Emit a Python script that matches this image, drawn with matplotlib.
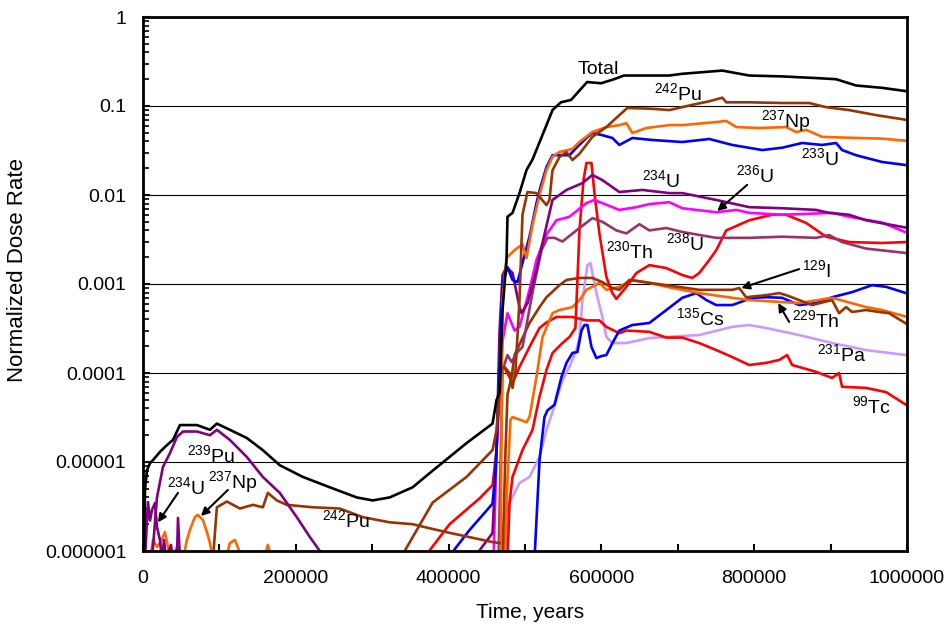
import numpy as np
import matplotlib
matplotlib.use("Agg")
import matplotlib.pyplot as plt
from matplotlib.ticker import FixedLocator, FixedFormatter, LogLocator, MultipleLocator, FuncFormatter, NullFormatter

plt.rcParams["font.family"] = ["Liberation Sans", "DejaVu Sans"]
plt.rcParams["mathtext.default"] = "regular"

# ---- data (years, normalized dose rate) ----
total_x = [1300, 2600, 5200, 9200, 13100, 22200, 31400, 39200, 48400, 70600,
           87600, 96700, 113700, 135900, 156800, 179000, 209200, 244400, 279700, 300700,
           322900, 353000, 375200, 423500, 457500, 462800, 466700, 470600, 475800, 477100,
           483700, 492800, 502000, 509800, 527100, 536000, 547000, 560300, 581300, 599500,
           616500, 629600, 688800, 705900, 758200, 793500, 836600, 881000, 907200, 933300,
           967300, 998700]
total_y = [8e-7, 4.85e-6, 8.1e-6, 9.7e-6, 1.05e-5, 1.3e-5, 1.55e-5, 1.77e-5, 2.6e-5, 2.6e-5,
           2.3e-5, 2.7e-5, 2.3e-5, 1.86e-5, 1.36e-5, 9.2e-6, 6.8e-6, 5.2e-6, 4.0e-6, 3.7e-6,
           4.0e-6, 5.2e-6, 7.5e-6, 1.63e-5, 2.7e-5, 5e-5, 6e-5, 5.1e-4, 1.86e-3, 5.7e-3,
           6.3e-3, 0.0105, 0.0191, 0.025, 0.058, 0.09, 0.11, 0.117, 0.186, 0.18,
           0.2, 0.22, 0.22, 0.23, 0.25, 0.22, 0.215, 0.206, 0.2, 0.17,
           0.16, 0.147]

pu239_x = [11800, 18300, 26100, 35300, 44400, 52300, 70600, 87600, 96700, 113700,
           135900, 156800, 179000, 201300, 218300, 231400, 238000]
pu239_y = [8e-7, 4.0e-6, 8.8e-6, 1.26e-5, 1.91e-5, 2.2e-5, 2.2e-5, 2.0e-5, 2.3e-5, 1.77e-5,
           1.14e-5, 6.8e-6, 4.5e-6, 2.4e-6, 1.44e-6, 1.0e-6, 8e-7]

u234_early_x = [2600, 5200, 6500, 9200, 11800, 15700, 18300, 22200, 24800, 27500,
                30100, 36600, 39200, 44400, 45800, 48400]
u234_early_y = [8e-7, 2.2e-6, 3.55e-6, 2.2e-6, 2.9e-6, 3.46e-6, 1.86e-6, 1.33e-6, 8e-7, 1.33e-6,
                8e-7, 1.17e-6, 8e-7, 8e-7, 2.35e-6, 8e-7]

np237_early_x = [9200, 13100, 18300, 22200, 28800, 32700, 36600, 45800, 52300, 57500,
                 61400, 67900, 71900, 78400, 83700, 87600, 91500, 108500, 113700, 120300,
                 130700, 158200, 163400, 168600]
np237_early_y = [8e-7, 1.33e-6, 1.11e-6, 1.23e-6, 1.63e-6, 1.11e-6, 8e-7, 1.17e-6, 8e-7, 1.33e-6,
                 1.72e-6, 2.41e-6, 2.54e-6, 2.23e-6, 1.63e-6, 1.23e-6, 8e-7, 8e-7, 1.23e-6, 1.33e-6,
                 8e-7, 8e-7, 1.17e-6, 8e-7]

pu242_early_x = [91500, 96700, 109800, 126800, 143800, 156900, 163400, 175200, 188200, 222200,
                 257500, 287600, 322900, 353000, 375200, 401300, 457500, 466700]
pu242_early_y = [8e-7, 3.1e-6, 3.6e-6, 3.0e-6, 3.3e-6, 3.1e-6, 4.5e-6, 3.7e-6, 3.3e-6, 3.1e-6,
                 3.0e-6, 2.4e-6, 2.1e-6, 2.0e-6, 1.8e-6, 1.6e-6, 1.26e-6, 1.23e-6]

pu242_x = [336000, 379100, 423500, 457500, 462800, 469300, 473200, 479700, 483700, 487600,
           492800, 496700, 503200, 515000, 528100, 532000, 536000, 545100, 554300, 562100,
           571200, 588200, 606500, 623500, 634000, 666700, 688900, 718900, 741200, 758200,
           763400, 793500, 836600, 871900, 894100, 924200, 959500, 998700]
pu242_y = [8e-7, 3.5e-6, 6.8e-6, 1.36e-5, 2.3e-5, 1.14e-4, 1.17e-4, 1.0e-4, 6.8e-5, 1.08e-4,
           6.6e-4, 6.0e-3, 0.0108, 0.0105, 7.7e-3, 8.8e-3, 0.019, 0.0267, 0.0304, 0.0247,
           0.029, 0.045, 0.058, 0.079, 0.095, 0.093, 0.09, 0.103, 0.113, 0.124,
           0.11, 0.11, 0.108, 0.108, 0.097, 0.09, 0.079, 0.07]

np237_x = [468000, 470600, 475800, 486300, 496700, 502000, 509800, 519000, 528100, 536000,
           545100, 562100, 571200, 588200, 606500, 623500, 632700, 640500, 658800, 688900,
           705900, 750300, 763400, 776500, 806500, 841800, 854900, 868000, 888900, 924200,
           967300, 998700]
np237_y = [8e-7, 6.6e-4, 1.96e-3, 2.4e-3, 2.8e-3, 1.96e-3, 4.6e-3, 0.01, 0.019, 0.027,
           0.0304, 0.033, 0.0394, 0.051, 0.058, 0.061, 0.064, 0.0497, 0.0566, 0.061,
           0.061, 0.066, 0.068, 0.058, 0.0566, 0.058, 0.051, 0.054, 0.045, 0.044,
           0.043, 0.0407]

u233_x = [397400, 427400, 457500, 461500, 465400, 470600, 477100, 483700, 490200, 496700,
          505900, 515000, 520300, 528100, 536000, 558200, 567300, 580400, 588200, 601300,
          614400, 623500, 640500, 666700, 705900, 741200, 771300, 810500, 836600, 862700,
          888900, 907200, 915000, 933300, 967300, 998700]
u233_y = [8e-7, 1.72e-6, 3.4e-6, 8.1e-6, 5.0e-5, 1e-3, 1.55e-3, 1.11e-3, 1.05e-3, 1.72e-3,
          3.4e-3, 8.1e-3, 0.0123, 0.0206, 0.028, 0.028, 0.034, 0.0437, 0.0497, 0.047,
          0.0437, 0.0365, 0.0437, 0.0415, 0.0394, 0.0426, 0.0365, 0.032, 0.034, 0.0384,
          0.0365, 0.0384, 0.032, 0.028, 0.0235, 0.0217]

u234_x = [431400, 457500, 462800, 466700, 470600, 475800, 483700, 492800, 495400, 503300,
          515000, 522900, 536000, 554300, 575200, 588200, 601300, 623500, 653600, 688900,
          705900, 750300, 793500, 836600, 881000, 898000, 924200, 946400, 998700]
u234_y = [8e-7, 1.59e-6, 1.36e-5, 3.0e-4, 1.26e-3, 1.55e-3, 1.33e-3, 5.5e-4, 4.7e-4, 6.1e-4,
          1.44e-3, 2.89e-3, 8.8e-3, 0.0114, 0.0136, 0.0168, 0.0147, 0.0108, 0.0114, 0.0105,
          0.0105, 8.8e-3, 7.3e-3, 7.1e-3, 6.8e-3, 6.3e-3, 6.0e-3, 5.2e-3, 4.3e-3]

u236_x = [458800, 462800, 470600, 477100, 486300, 492800, 505900, 515000, 528100, 541200,
          558200, 580400, 590800, 601300, 623500, 645800, 662800, 688900, 705900, 750300,
          776500, 793500, 836600, 902000, 924200, 967300, 998700]
u236_y = [8e-7, 1.36e-5, 2.3e-4, 4.7e-4, 3.0e-4, 3.3e-4, 8.6e-4, 1.86e-3, 3.6e-3, 5.2e-3,
          5.7e-3, 8.1e-3, 8.8e-3, 8.1e-3, 6.8e-3, 7.3e-3, 7.9e-3, 8.3e-3, 7.1e-3, 6.4e-3,
          6.8e-3, 6.3e-3, 6.0e-3, 6.3e-3, 5.7e-3, 4.9e-3, 3.8e-3]

u238_x = [465400, 470600, 477100, 482400, 490200, 496700, 509800, 521600, 529400, 538600,
          549000, 567300, 588200, 601300, 619600, 632700, 649700, 662800, 685000, 705900,
          750300, 793500, 836600, 881000, 898000, 915000, 946400, 998700]
u238_y = [8e-7, 1.08e-4, 1.59e-4, 1.33e-4, 1.72e-4, 1.96e-4, 8.0e-4, 2.4e-3, 3.3e-3, 3.3e-3,
          3.0e-3, 4.0e-3, 5.5e-3, 5.0e-3, 4.0e-3, 3.7e-3, 4.7e-3, 4.0e-3, 4.26e-3, 3.84e-3,
          3.3e-3, 3.3e-3, 3.4e-3, 3.3e-3, 3.55e-3, 2.96e-3, 2.5e-3, 2.23e-3]

th230_x = [477100, 479700, 483700, 496700, 509800, 519000, 528100, 536000, 549000, 558200,
           566000, 571300, 576600, 580400, 587000, 590900, 597400, 606500, 614400, 619600,
           632700, 645800, 662800, 685000, 705900, 719000, 728100, 741200, 750300, 763400,
           793500, 823500, 841800, 868000, 894100, 924200, 967300, 998700]
th230_y = [8e-7, 3.46e-6, 6.8e-6, 1.36e-5, 2.29e-5, 5.4e-5, 1.08e-4, 1.68e-4, 2.17e-4, 2.54e-4,
           3.2e-4, 4.0e-3, 0.0147, 0.0229, 0.0229, 0.0105, 3.7e-3, 1.2e-3, 7.9e-4, 6.8e-4,
           9.3e-4, 1.33e-3, 1.63e-3, 1.51e-3, 1.26e-3, 1.17e-3, 1.33e-3, 1.86e-3, 2.4e-3, 4.0e-3,
           5.2e-3, 6.0e-3, 6.0e-3, 4.85e-3, 3.4e-3, 2.96e-3, 2.89e-3, 2.96e-3]

tc99_x = [366000, 401300, 440500, 457500, 462800, 466700, 473200, 479700, 483700, 492800,
          505900, 519000, 528100, 541200, 562100, 580400, 597400, 606500, 623500, 632700,
          662800, 685000, 705900, 728100, 750300, 771300, 793500, 815700, 832700, 843100,
          849700, 881000, 902000, 911100, 915000, 946400, 972600, 998700]
tc99_y = [8e-7, 2.0e-6, 3.9e-6, 5.5e-6, 1.36e-5, 1.08e-4, 1.14e-4, 9.0e-5, 7.7e-5, 1.17e-4,
          1.96e-4, 3.2e-4, 3.7e-4, 4.26e-4, 4.26e-4, 3.9e-4, 3.9e-4, 3.3e-4, 2.8e-4, 3.0e-4,
          2.9e-4, 2.5e-4, 2.5e-4, 2.17e-4, 1.81e-4, 1.51e-4, 1.23e-4, 1.3e-4, 1.4e-4, 1.59e-4,
          1.23e-4, 1.03e-4, 8.8e-5, 1.0e-4, 7.0e-5, 6.8e-5, 6.1e-5, 4.4e-5]

th229_x = [473200, 477100, 481000, 483700, 502000, 505900, 515000, 522900, 536000, 545100,
           562100, 571300, 580400, 588200, 597400, 606500, 623500, 640500, 662800, 685000,
           728100, 771300, 793500, 832700, 858800, 902000, 946400, 967300, 998700]
th229_y = [8e-7, 6.3e-6, 3.0e-5, 3.2e-5, 2.8e-5, 3.2e-5, 9.0e-5, 2.54e-4, 4.7e-4, 5.1e-4,
           5.5e-4, 6.6e-4, 8.6e-4, 9.3e-4, 1.03e-3, 8.6e-4, 9.3e-4, 1.11e-3, 1.03e-3, 9.3e-4,
           7.9e-4, 7.0e-4, 6.6e-4, 6.3e-4, 6.1e-4, 7.0e-4, 5.5e-4, 5.1e-4, 4.3e-4]

i129_x = [470600, 474500, 477100, 482400, 486300, 505900, 519000, 528100, 545100, 554300,
          571300, 588200, 601300, 614400, 623500, 636600, 662800, 685000, 728100, 771300,
          780400, 789500, 815700, 832700, 841800, 858800, 875800, 902000, 911100, 920300,
          928100, 946400, 963400, 976500, 998700]
i129_y = [8e-7, 1.36e-5, 5.7e-5, 9.0e-5, 1.59e-4, 3.65e-4, 5.5e-4, 7.1e-4, 9.7e-4, 1.11e-3,
          1.17e-3, 1.17e-3, 1.05e-3, 9.0e-4, 8.6e-4, 1.11e-3, 1.03e-3, 9.7e-4, 8.6e-4, 8.6e-4,
          9.0e-4, 7.1e-4, 7.5e-4, 7.9e-4, 7.5e-4, 6.6e-4, 5.8e-4, 6.6e-4, 4.7e-4, 5.5e-4,
          4.85e-4, 5.1e-4, 4.85e-4, 4.7e-4, 3.6e-4]

cs135_x = [512400, 515000, 519000, 525500, 529400, 538600, 547700, 554300, 562100, 568600,
           573900, 577800, 581700, 587000, 593500, 600000, 606500, 614400, 623500, 640500,
           662800, 685000, 705900, 724200, 737300, 750300, 771300, 797400, 815700, 836600,
           858800, 881000, 902000, 928100, 954300, 972600, 998700]
cs135_y = [8e-7, 2.2e-6, 1.05e-5, 3.2e-5, 3.8e-5, 4.4e-5, 9.0e-5, 1.3e-4, 1.68e-4, 1.72e-4,
           3.0e-4, 3.46e-4, 3.46e-4, 1.96e-4, 1.47e-4, 1.55e-4, 1.59e-4, 2.17e-4, 3.0e-4, 3.46e-4,
           3.65e-4, 5.1e-4, 7.0e-4, 7.9e-4, 6.6e-4, 5.8e-4, 5.8e-4, 7.0e-4, 7.1e-4, 7.0e-4,
           5.8e-4, 6.1e-4, 7.1e-4, 8.1e-4, 9.7e-4, 9.3e-4, 7.9e-4]

pa231_x = [474500, 477100, 479700, 492800, 505900, 519000, 528100, 541200, 549000, 558200,
           567300, 571300, 575200, 581700, 585600, 593500, 601300, 606500, 614400, 632700,
           662800, 685000, 728100, 771300, 793500, 815700, 858800, 902000, 946400, 998700]
pa231_y = [8e-7, 2.2e-6, 3.46e-6, 5.8e-6, 6.8e-6, 1.14e-5, 2.29e-5, 5.0e-5, 8.3e-5, 1.17e-4,
           1.81e-4, 2.54e-4, 6.6e-4, 1.63e-3, 1.72e-3, 7.9e-4, 4.26e-4, 2.54e-4, 2.17e-4, 2.17e-4,
           2.47e-4, 2.54e-4, 2.67e-4, 3.3e-4, 3.46e-4, 3.2e-4, 2.67e-4, 2.17e-4, 1.81e-4, 1.59e-4]

# colours
BLACK = "#000000"
PURPLE = "#800080"
BROWN = "#993300"
ORANGE = "#FF6600"
BLUE = "#0000FF"
MAGENTA = "#FF00FF"
MAUVE = "#993366"
RED = "#FF0000"
LAVENDER = "#CC99FF"

series = [
    (pa231_x, pa231_y, LAVENDER),
    (tc99_x, tc99_y, RED),
    (cs135_x, cs135_y, BLUE),
    (th229_x, th229_y, ORANGE),
    (i129_x, i129_y, BROWN),
    (th230_x, th230_y, RED),
    (u238_x, u238_y, MAUVE),
    (u236_x, u236_y, MAGENTA),
    (u234_x, u234_y, PURPLE),
    (u233_x, u233_y, BLUE),
    (np237_x, np237_y, ORANGE),
    (pu242_x, pu242_y, BROWN),
    (pu242_early_x, pu242_early_y, BROWN),
    (np237_early_x, np237_early_y, ORANGE),
    (u234_early_x, u234_early_y, PURPLE),
    (pu239_x, pu239_y, PURPLE),
    (total_x, total_y, BLACK),
]

# label text, anchor (x, y) = left / baseline
labels = [
    ("Total", None, 568600, 0.229),
    ("242", "Pu", 669300, 0.117),
    ("237", "Np", 809100, 0.058),
    ("233", "U", 861400, 0.0217),
    ("234", "U", 653600, 0.0123),
    ("236", "U", 776500, 0.014),
    ("230", "Th", 606500, 1.96e-3),
    ("238", "U", 685000, 2.4e-3),
    ("129", "I", 862700, 1.2e-3),
    ("135", "Cs", 698000, 3.46e-4),
    ("229", "Th", 849700, 3.3e-4),
    ("231", "Pa", 882400, 1.36e-4),
    ("99", "Tc", 928100, 3.55e-5),
    ("239", "Pu", 57500, 1.0e-5),
    ("234", "U", 31400, 4.36e-6),
    ("237", "Np", 85000, 5.1e-6),
    ("242", "Pu", 234000, 1.86e-6),
]

# arrows: (text end) -> (tip)
arrows = [
    ((790800, 0.013), (751600, 6.6e-3)),
    ((858800, 1.47e-3), (783000, 9.0e-4)),
    ((845700, 3.75e-4), (831400, 6.1e-4)),
    ((45800, 4.5e-6), (19600, 2.1e-6)),
    ((111100, 4.85e-6), (75800, 2.47e-6)),
]

decades = [1e-6, 1e-5, 1e-4, 1e-3, 1e-2, 1e-1, 1]
decade_labels = ["0.000001", "0.00001", "0.0001", "0.001", "0.01", "0.1", "1"]

W, H = 951, 632
fig = plt.figure(figsize=(W / 100, H / 100), dpi=100)
ax = fig.add_axes([143 / W, 1 - 551 / H, 764 / W, 534 / H])

for xs, ys, c in series:
    ax.plot(xs, ys, color=c, lw=1.9, solid_joinstyle="round")

ax.set_yscale("log")
ax.set_xlim(0, 1000000)
ax.set_ylim(1e-6, 1)

ax.yaxis.set_major_locator(FixedLocator(decades))
ax.yaxis.set_major_formatter(FixedFormatter(decade_labels))
ax.yaxis.set_minor_locator(LogLocator(base=10, subs=np.arange(2, 10), numticks=20))
ax.yaxis.set_minor_formatter(NullFormatter())
ax.xaxis.set_major_locator(MultipleLocator(100000))
ax.xaxis.set_major_formatter(FuncFormatter(lambda v, p: f"{int(round(v))}" if int(round(v)) % 200000 == 0 else ""))

ax.grid(axis="y", which="major", color="black", lw=0.8)
ax.set_axisbelow(True)
ax.tick_params(which="both", direction="in", top=False, right=False, labelsize=14)
ax.tick_params(which="major", length=5, width=1.5)
ax.tick_params(which="minor", length=4, width=1.2)
ax.tick_params(axis="x", pad=14)
ax.tick_params(axis="y", pad=12)
for s in ax.spines.values():
    s.set_linewidth(2.0)
    s.set_zorder(5)

ax.set_xlabel("Time, years", fontsize=15)
ax.set_ylabel("Normalized Dose Rate", fontsize=16)
ax.xaxis.set_label_coords(0.5065, -0.097)
ax.yaxis.set_label_coords(-0.1505, 0.526)

for sup, main, x, y in labels:
    txt = sup if main is None else r"$^{" + sup + "}$" + main
    ax.text(x, y, txt, fontsize=14, ha="left", va="baseline", zorder=6)

for (x0, y0), (x1, y1) in arrows:
    ax.annotate("", xy=(x1, y1), xytext=(x0, y0),
                arrowprops=dict(arrowstyle="-|>", color="black", lw=1.5, mutation_scale=12,
                                shrinkA=0, shrinkB=0), zorder=6)

fig.savefig("out.png", dpi=100)
